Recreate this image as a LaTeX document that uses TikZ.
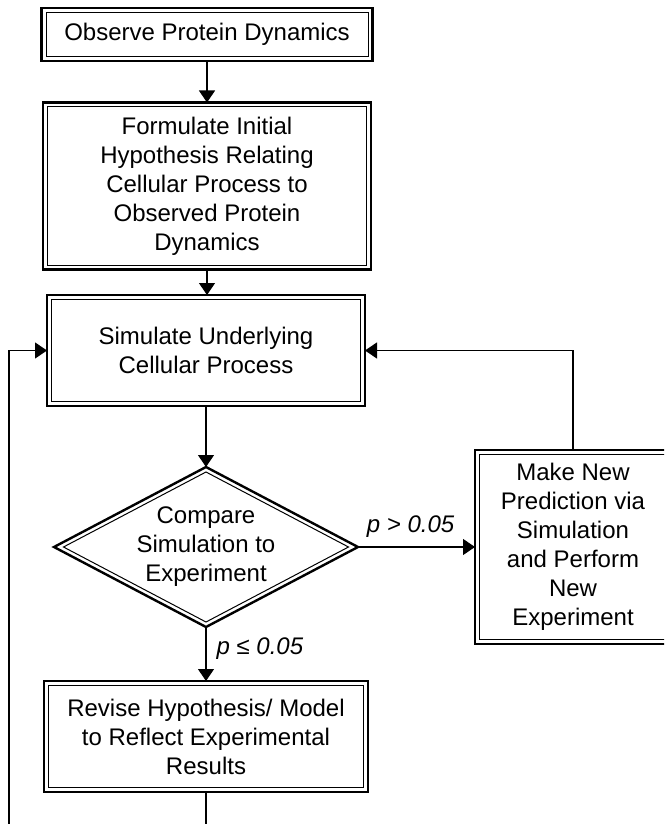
\documentclass[tikz,border=0pt]{standalone}
\usepackage{fontspec}
\setmainfont{Liberation Sans}
\usetikzlibrary{arrows.meta,shapes.geometric}
\begin{document}
\begin{tikzpicture}[x=1pt,y=-1pt,
  txtfont/.style={font=\fontsize{24}{29}\selectfont},
  box/.style={draw, line width=2.4pt, inner sep=0pt, outer sep=0pt, align=center, txtfont},
  diam/.style={draw, diamond, line width=2.4pt, inner sep=0pt, outer sep=0pt},
  txt/.style={align=center, inner sep=0pt, txtfont},
  conn/.style={line width=1.2pt, -{Triangle[width=16pt,length=12pt]}},
  plainline/.style={line width=1.2pt},
  lbl/.style={font=\fontsize{24}{29}\selectfont\itshape, inner sep=0pt},
  inner/.style={line width=1pt}
]
\useasboundingbox (0,0) rectangle (664,824);
\clip (0,0) rectangle (664,824);

\node[box, minimum width=331pt, minimum height=53pt] (obs) at (207,34.5) {Observe Protein Dynamics};
\node[box, minimum width=328pt, minimum height=167pt] (form) at (207,186)
  {Formulate Initial\\Hypothesis Relating\\Cellular Process to\\Observed Protein\\Dynamics};
\node[box, minimum width=318pt, minimum height=111pt] (sim) at (206,350.5)
  {Simulate Underlying\\Cellular Process};
\node[diam, minimum width=304pt, minimum height=160pt] (cmp) at (206,547) {};
\node[txt] (cmptxt) at (cmp.center) {Compare\\Simulation to\\Experiment};
\node[box, minimum width=196pt, minimum height=194pt] (pred) at (573,547)
  {Make New\\Prediction via\\Simulation\\and Perform\\New\\Experiment};
\node[box, minimum width=324pt, minimum height=111pt] (rev) at (206,736.5)
  {Revise Hypothesis/ Model\\to Reflect Experimental\\Results};

% inner lines of the double borders
\foreach \n in {obs,form,sim,pred,rev}{
  \draw[inner] ([shift={(4.5pt,-4.5pt)}]\n.north west) rectangle ([shift={(-4.5pt,4.5pt)}]\n.south east);
}
\draw[inner] ([yshift=-5pt]cmp.north) -- ([xshift=-9.5pt]cmp.east) -- ([yshift=5pt]cmp.south) -- ([xshift=9.5pt]cmp.west) -- cycle;

\coordinate (leftbottom) at (9,830);
\coordinate (midbottom) at (206,830);

\draw[conn] (obs.south) -- (obs.south |- form.north);
\draw[conn] (form.south) -- (form.south |- sim.north);
\draw[conn] (sim.south) -- (sim.south |- cmp.north);
\draw[conn] (cmp.east) -- node[lbl, above=9pt, pos=0.45] {p > 0.05} (pred.west);
\draw[conn] (cmp.south) -- node[lbl, right=10pt, pos=0.4] {p ≤ 0.05} (cmp.south |- rev.north);
\draw[conn] (pred.north) |- (sim.east);
\draw[conn] (leftbottom) |- (sim.west);
\draw[plainline] (rev.south) -- (midbottom);
\end{tikzpicture}
\end{document}
